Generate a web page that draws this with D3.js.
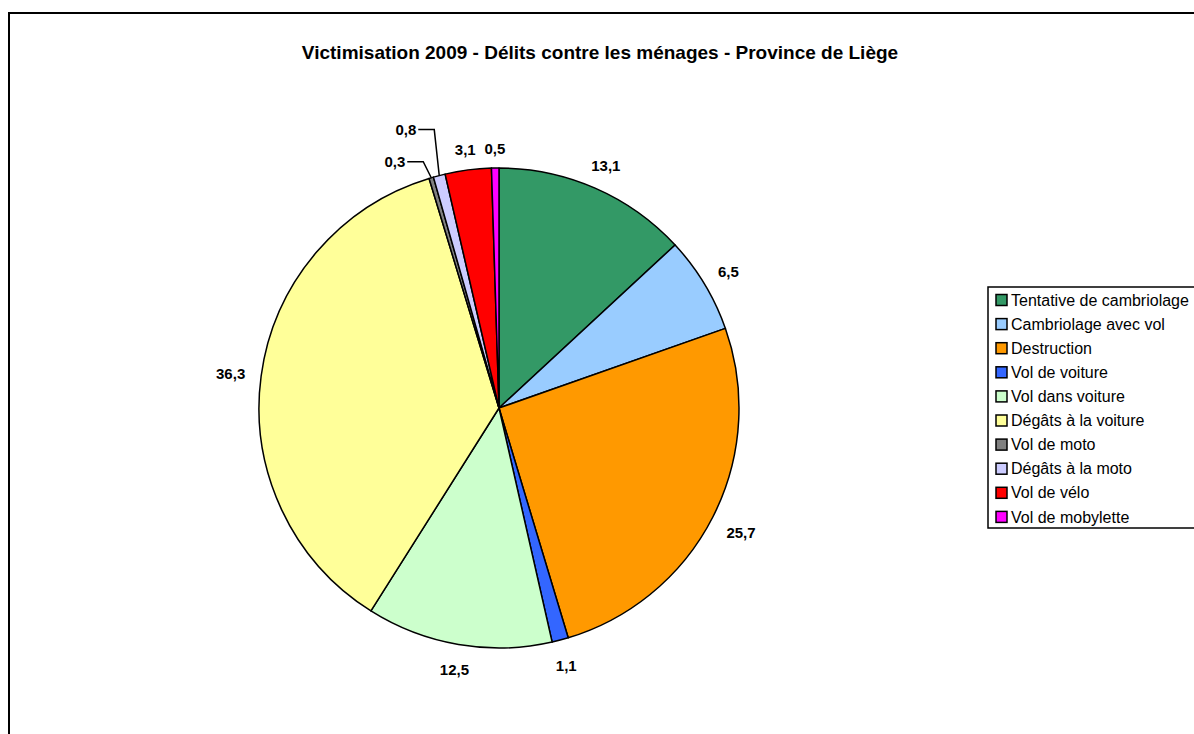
<!DOCTYPE html>
<html>
<head>
<meta charset="utf-8">
<script src="https://cdn.jsdelivr.net/npm/d3@7"></script>
<style>
  body { margin: 0; background: #fff; }
  text { font-family: "Liberation Sans", Arial, sans-serif; }
</style>
</head>
<body>
<div id="chart"></div>
<script>
// categories and values (percent)
const categories = ["Tentative de cambriolage", "Cambriolage avec vol", "Destruction", "Vol de voiture",
    "Vol dans voiture", "Dégâts à la voiture", "Vol de moto", "Dégâts à la moto", "Vol de vélo", "Vol de mobylette"];
const values = [13.1, 6.5, 25.7, 1.1, 12.5, 36.3, 0.3, 0.8, 3.1, 0.5];
const colours = ["#339966", "#99CCFF", "#FF9900", "#3366FF", "#CCFFCC", "#FFFF99", "#808080", "#CCCCFF", "#FF0000", "#FF00FF"];
// labels pulled out with a leader line (too thin to label in place)
const leaderLabels = ["Vol de moto", "Dégâts à la moto"];

const width = 1194, height = 734;
const cx = 499, cy = 408, r = 240;

const svg = d3.select("#chart").append("svg")
    .attr("width", width)
    .attr("height", height);

// outer frame
svg.append("rect")
    .attr("x", 9).attr("y", 13)
    .attr("width", 1192).attr("height", 740)
    .attr("fill", "none")
    .attr("stroke", "#000")
    .attr("stroke-width", 2);

svg.append("text")
    .attr("x", 600).attr("y", 59)
    .attr("text-anchor", "middle")
    .attr("font-size", 19)
    .attr("font-weight", "bold")
    .text("Victimisation 2009 - Délits contre les ménages - Province de Liège");

const data = categories.map((c, i) => ({name: c, value: values[i], colour: colours[i]}));

const pie = d3.pie().sort(null).value(d => d.value);
const arcs = pie(data);
const arc = d3.arc().innerRadius(0).outerRadius(r);

const g = svg.append("g").attr("transform", `translate(${cx},${cy})`);

g.selectAll("path")
    .data(arcs)
    .join("path")
        .attr("d", arc)
        .attr("fill", d => d.data.colour)
        .attr("stroke", "#000")
        .attr("stroke-width", 1.5)
        .attr("stroke-linejoin", "round");

const fmt = v => String(v).replace(".", ",");

//labels
let k = 0;
arcs.forEach(d => {
    const a = (d.startAngle + d.endAngle) / 2;
    const s = Math.sin(a), c = -Math.cos(a);
    const txt = fmt(d.data.value);
    const w = txt.length * 8, h = 14;
    if (leaderLabels.includes(d.data.name)) {
        const ex = r * s, ey = r * c;
        const elbowY = ey - 16 - 30 * k;
        const elbowX = ex - 8 + 3 * k;
        g.append("path")
            .attr("d", `M${ex},${ey}L${elbowX},${elbowY}L${elbowX - 16},${elbowY}`)
            .attr("fill", "none")
            .attr("stroke", "#000")
            .attr("stroke-width", 1.5);
        g.append("text")
            .attr("x", elbowX - 18).attr("y", elbowY)
            .attr("dy", "0.35em")
            .attr("text-anchor", "end")
            .attr("font-size", 15)
            .attr("font-weight", "bold")
            .text(txt);
        k++;
        return;
    }
    const R = r + 14 + Math.abs(s) * w / 2 + Math.abs(c) * h / 2;
    g.append("text")
        .attr("x", R * s).attr("y", R * c)
        .attr("dy", "0.5em")
        .attr("text-anchor", "middle")
        .attr("font-size", 15)
        .attr("font-weight", "bold")
        .text(txt);
});

// legend
const legend = svg.append("g").attr("transform", "translate(988,287)");
legend.append("rect")
    .attr("width", 220).attr("height", 241)
    .attr("fill", "#fff")
    .attr("stroke", "#000")
    .attr("stroke-width", 1.5);

const item = legend.selectAll("g.item")
    .data(data)
    .join("g")
        .attr("class", "item")
        .attr("transform", (d, i) => `translate(8,${13 + i * 24.1})`);

item.append("rect")
    .attr("x", 0).attr("y", -5.5)
    .attr("width", 11).attr("height", 11)
    .attr("fill", d => d.colour)
    .attr("stroke", "#000")
    .attr("stroke-width", 1.5);

item.append("text")
    .attr("x", 15).attr("y", 0)
    .attr("dy", "0.35em")
    .attr("font-size", 16)
    .text(d => d.name);
</script>
</body>
</html>
